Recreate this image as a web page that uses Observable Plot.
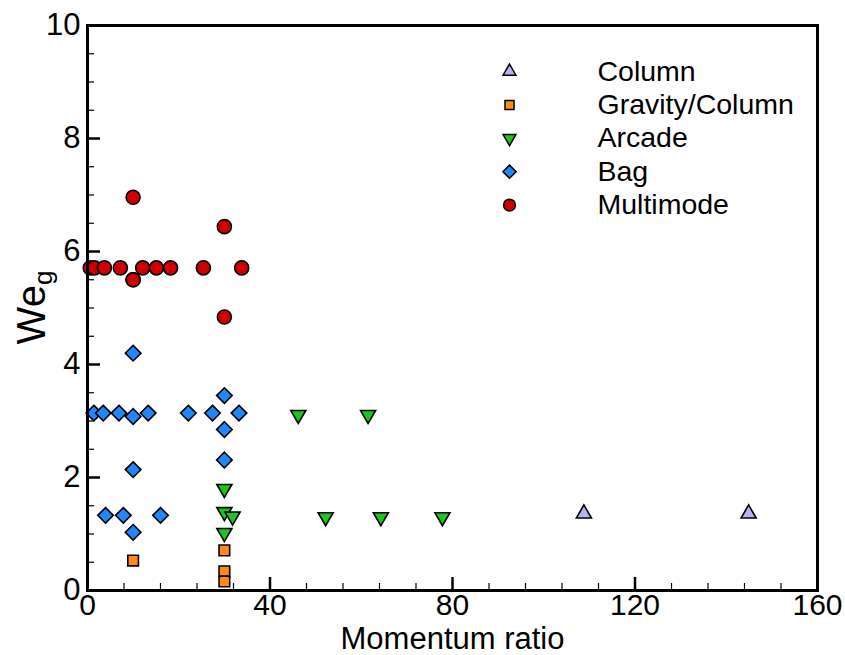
<!DOCTYPE html>
<html>
<head>
<meta charset="utf-8">
<script src="https://cdn.jsdelivr.net/npm/d3@7"></script>
<script src="https://cdn.jsdelivr.net/npm/@observablehq/plot@0.6"></script>
<style>
  html, body { margin: 0; padding: 0; background: #fff; }
  #chart svg { display: block; }
</style>
</head>
<body>
<div id="chart"></div>
<script>
// ---- categories & styles ----
const categories = ["Column", "Gravity/Column", "Arcade", "Bag", "Multimode"];
const colors = ["#b4b4f5", "#ff8a14", "#19c819", "#1e88ff", "#d00000"];
const symbols = ["triangle", "square", "triangle", "diamond2", "circle"];
const rotations = [0, 0, 180, 0, 0];
const radii = [5.6, 6.0, 5.6, 7.0, 7.0];

// ---- series values (Momentum ratio, We_g) ----
const columnX = [108.8, 144.9];
const columnY = [1.36, 1.36];

const gravityX = [10.0, 30.0, 30.0, 30.0];
const gravityY = [0.53, 0.71, 0.34, 0.16];

const arcadeX = [30.0, 30.0, 31.8, 30.0, 46.2, 61.5, 52.2, 64.3, 77.8];
const arcadeY = [1.80, 1.39, 1.31, 1.02, 3.11, 3.11, 1.30, 1.30, 1.30];

const bagX = [10.0, 1.4, 3.45, 6.9, 10.0, 13.3, 22.1, 27.4, 33.2, 30.0, 30.0, 30.0, 10.0, 3.95, 7.85, 16.0, 10.0];
const bagY = [4.20, 3.14, 3.14, 3.14, 3.08, 3.14, 3.14, 3.14, 3.14, 3.45, 2.85, 2.31, 2.14, 1.33, 1.33, 1.33, 1.03];

const multiX = [0.6, 1.5, 3.7, 7.2, 10.0, 12.1, 15.1, 18.2, 25.4, 33.8, 10.0, 10.0, 30.0, 30.0];
const multiY = [5.71, 5.71, 5.71, 5.71, 5.50, 5.71, 5.71, 5.71, 5.71, 5.71, 6.96, 5.50, 6.44, 4.84];

const seriesX = [columnX, gravityX, arcadeX, bagX, multiX];
const seriesY = [columnY, gravityY, arcadeY, bagY, multiY];

// ---- ticks ----
const xMajor = [0, 40, 80, 120, 160];
const xMinor = d3.range(8, 160, 8).filter(v => v % 40 !== 0);
const yMajor = [0, 2, 4, 6, 8, 10];
const yMinor = d3.range(0.5, 10, 0.5).filter(v => v % 2 !== 0);

const xLabel = "Momentum ratio";

// ---- layout ----
const W = 845, H = 655;
const mL = 87, mR = 28, mT = 25, mB = 65;
const fw = W - mL - mR, fh = H - mT - mB;
const font = "'Liberation Sans', Arial, Helvetica, sans-serif";

const dataMarks = categories.map((c, i) => {
  const pts = seriesX[i].map((x, j) => ({x, y: seriesY[i][j]}));
  return Plot.dot(pts, {
    x: "x", y: "y",
    symbol: symbols[i], r: radii[i], rotate: rotations[i],
    fill: colors[i], stroke: "#000", strokeWidth: 1.6
  });
});

const legendMarks = categories.flatMap((c, i) => [
  Plot.dot([c], {
    frameAnchor: "top-left", dx: 422, dy: 46 + i * 33.4,
    symbol: symbols[i], r: radii[i] * 0.85, rotate: rotations[i],
    fill: colors[i], stroke: "#000", strokeWidth: 1.5
  }),
  Plot.text([c], {
    frameAnchor: "top-left", dx: 510, dy: 46 + i * 33.4,
    text: d => d, textAnchor: "start", lineAnchor: "middle",
    fontSize: 28.5, fill: "#000"
  })
]);

const svg = Plot.plot({
  width: W, height: H,
  marginLeft: mL, marginRight: mR, marginTop: mT, marginBottom: mB,
  style: {fontFamily: font, background: "#fff", color: "#000", overflow: "visible"},
  x: {domain: [0, 160], axis: null},
  y: {domain: [0, 10], axis: null},
  marks: [
    Plot.tickX(xMinor, {x: d => d, insetTop: fh - 7, strokeWidth: 1.2, stroke: "#000"}),
    Plot.tickX(xMajor, {x: d => d, insetTop: fh - 13, strokeWidth: 2.5, stroke: "#000"}),
    Plot.tickY(yMinor, {y: d => d, insetRight: fw - 7, strokeWidth: 1.2, stroke: "#000"}),
    Plot.tickY(yMajor, {y: d => d, insetRight: fw - 13, strokeWidth: 2.5, stroke: "#000"}),
    Plot.axisX(xMajor, {tickSize: 0, tickPadding: 3, fontSize: 30, label: null, tickFormat: d => String(d)}),
    Plot.axisY(yMajor, {tickSize: 0, tickPadding: 7, fontSize: 31, label: null, tickFormat: d => String(d)}),
    Plot.text([xLabel], {frameAnchor: "bottom", dy: 48.5, text: d => d, fontSize: 31, lineAnchor: "middle", fill: "#000"}),
    ...dataMarks,
    Plot.frame({stroke: "#000", strokeWidth: 3}),
    ...legendMarks
  ]
});

// y-axis title with subscript
const t = d3.select(svg).append("text")
  .attr("transform", `translate(45, ${mT + fh / 2}) rotate(-90)`)
  .attr("text-anchor", "middle")
  .attr("font-family", font)
  .attr("font-size", 40)
  .attr("fill", "#000");
t.append("tspan").text("We");
t.append("tspan").attr("font-size", 26).attr("dy", 7).text("g");

document.getElementById("chart").appendChild(svg);
</script>
</body>
</html>
